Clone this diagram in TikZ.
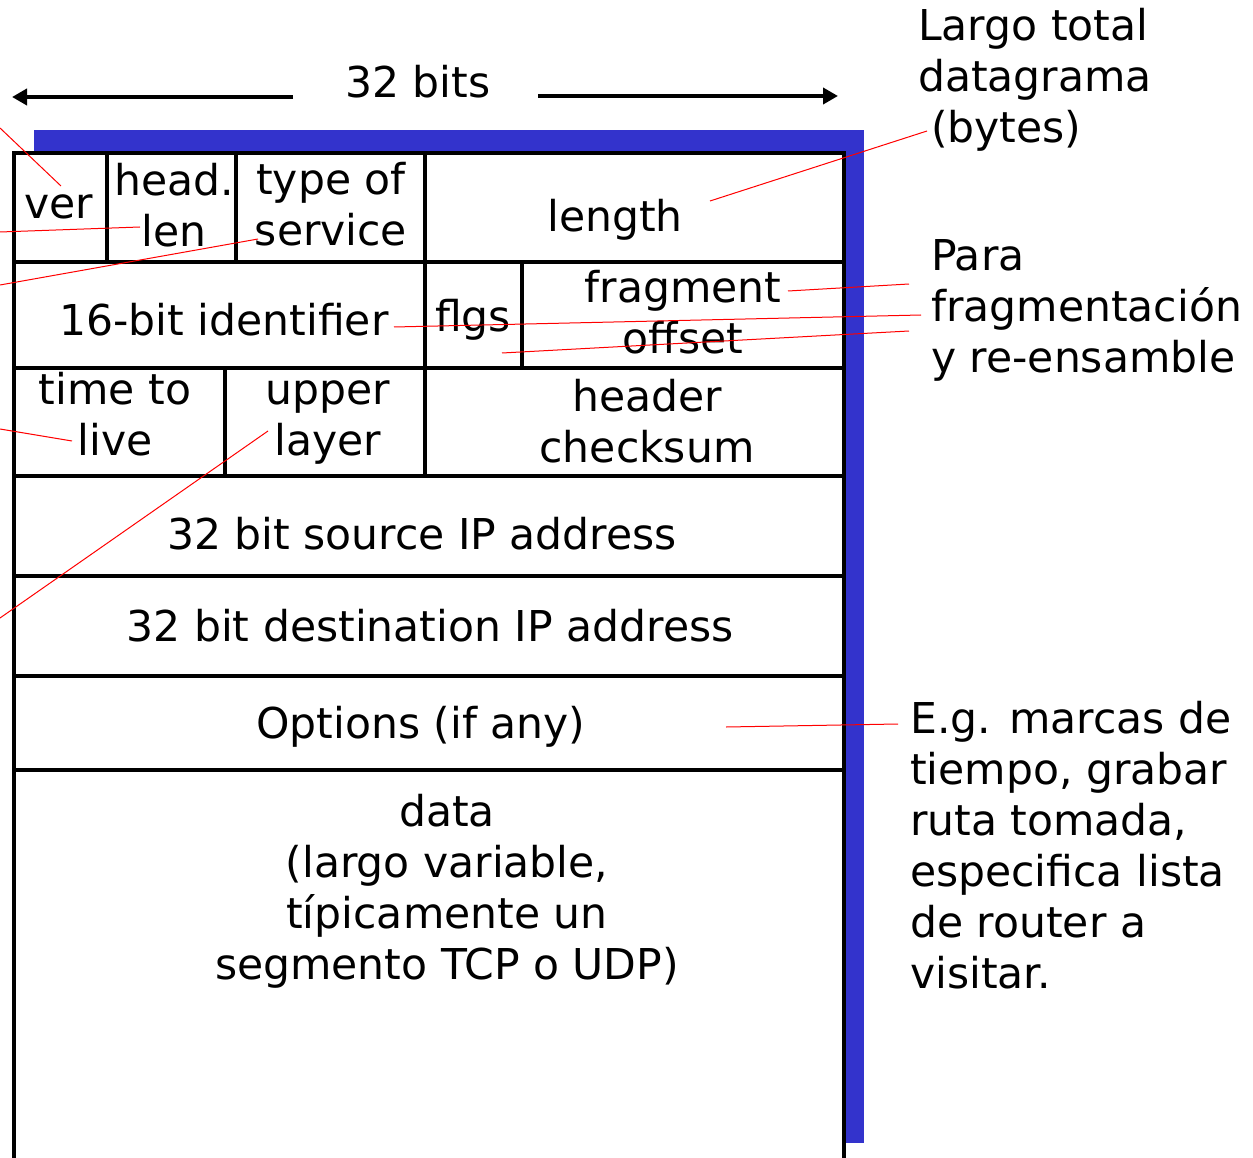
\documentclass[tikz,border=0pt]{standalone}
\usepackage{fontspec}
\setmainfont{DejaVu Sans}
\usetikzlibrary{arrows.meta}
\definecolor{shadowblue}{RGB}{51,51,204}
\tikzset{
	field/.style={inner sep=0pt, anchor=base, align=center},
	note/.style={inner sep=0pt, anchor=base west, align=left},
	rule/.style={line width=4pt},
	pointer/.style={red, line width=1pt},
	bitarrow/.style={line width=4pt, -{Triangle[length=15pt,width=16pt]}},
}
\begin{document}
\begin{tikzpicture}[x=1pt,y=-1pt,font=\fontsize{42.5}{51}\selectfont]
\useasboundingbox (0,0) rectangle (1253,1158);
\fill[shadowblue] (34,130) rectangle (864,1143);
\fill[white] (14,153) rectangle (844,1160);
\draw[rule] (14,1160) -- (14,153) -- (844,153) -- (844,1160);
\draw[rule] (14,262) -- (844,262) (14,368) -- (844,368) (14,476) -- (844,476)
	(14,576) -- (844,576) (14,676) -- (844,676) (14,770) -- (844,770);
\draw[rule] (107,153) -- (107,262) (236,153) -- (236,262) (425,153) -- (425,476)
	(522,262) -- (522,368) (225,368) -- (225,476);
\path
	(418,98) node [field] (bits) {32 bits}
	(59,219) node [field] (ver) {ver}
	(174,247) node [field] (hlen) {head.\\len}
	(331,246) node [field] (tos) {type of\\service}
	(615,232) node [field] (length) {length}
	(224,335) node [field] (ident) {16-bit identifier}
	(473,331) node [field] (flgs) {flgs}
	(683,353) node [field] (fragoff) {fragment\\offset}
	(115,455) node [field] (ttl) {time to\\live}
	(328,455) node [field] (upper) {upper\\layer}
	(647,462) node [field] (checksum) {header\\checksum}
	(422,549) node [field] (srcaddr) {32 bit source IP address}
	(430,641) node [field] (dstaddr) {32 bit destination IP address}
	(421,738) node [field] (options) {Options (if any)}
	(447,979) node [field] (data) {data\\(largo variable,\\típicamente un\\segmento TCP o UDP)}
	(918,143) node [note] (totnote) {Largo total\\datagrama\\\hspace*{13pt}(bytes)}
	(931,372) node [note] (fragnote) {Para\\fragmentación\\y re-ensamble}
	(910,988) node [note] (optnote) {E.g. marcas de\\tiempo, grabar\\ruta tomada,\\especifica lista\\de router a\\visitar.};
\coordinate (bitsL) at (293,97);
\coordinate (bitsLtip) at (12,97);
\coordinate (bitsR) at (538,96);
\coordinate (bitsRtip) at (838,96);
\draw[bitarrow] (bitsL) -- (bitsLtip);
\draw[bitarrow] (bitsR) -- (bitsRtip);
\coordinate (verA) at (0,128);
\coordinate (verB) at (61,186);
\coordinate (lenA) at (0,232);
\coordinate (lenB) at (140,227);
\coordinate (tosA) at (0,285);
\coordinate (tosB) at (258,239);
\coordinate (lengthA) at (710,201);
\coordinate (lengthB) at (927,131);
\coordinate (fragA) at (788,291);
\coordinate (fragB) at (909,284);
\coordinate (flgsA) at (394,327);
\coordinate (flgsB) at (921,315);
\coordinate (offA) at (502,353);
\coordinate (offB) at (909,331);
\coordinate (ttlA) at (0,429);
\coordinate (ttlB) at (72,441);
\coordinate (upperA) at (268,431);
\coordinate (upperB) at (0,618);
\coordinate (optA) at (726,727);
\coordinate (optB) at (898,724);
\draw[pointer] (verA) -- (verB) (lenA) -- (lenB) (tosA) -- (tosB)
	(lengthA) -- (lengthB) (fragA) -- (fragB) (flgsA) -- (flgsB) (offA) -- (offB)
	(ttlA) -- (ttlB) (upperA) -- (upperB) (optA) -- (optB);
\end{tikzpicture}
\end{document}
